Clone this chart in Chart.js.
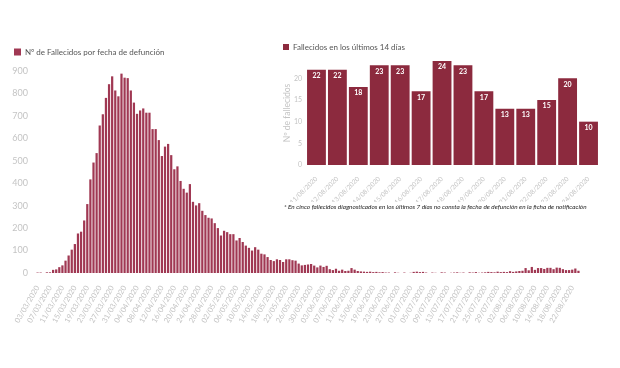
<!DOCTYPE html>
<html><head><meta charset="utf-8">
<script src="https://cdn.jsdelivr.net/npm/chart.js@4"></script>
<style>
html,body{margin:0;padding:0;background:#fff;}
#wrap{position:relative;width:620px;height:368px;overflow:hidden;font-family:Lato,sans-serif;}
#main{position:absolute;left:0;top:0;}
#inset{position:absolute;left:272px;top:34px;}
#note{position:absolute;left:284px;top:203px;font-size:6.4px;font-style:italic;color:#222;white-space:nowrap;font-family:Lato,sans-serif;}
</style></head>
<body><div id="wrap">
<canvas id="main" width="620" height="368"></canvas>
<canvas id="inset" width="334" height="168"></canvas>
<div id="note">* En cinco fallecidos diagnosticados en los últimos 7 días no consta la fecha de defunción en la ficha de notificación</div>
</div>
<script>
// ---- Main chart data ----
const startDate = new Date(2020, 2, 3);
const deathsByDate = [
  2,2,0,3,3,14,16,26,34,55,
  78,104,129,176,184,234,307,417,492,534,
  657,707,780,841,876,813,787,888,870,868,
  813,759,709,724,733,714,714,641,641,592,
  521,563,575,525,462,475,410,375,358,396,
  317,301,311,
  277,258,246,243,222,200,167,188,182,173,
  173,145,156,138,122,112,100,115,104,86,
  83,71,58,53,61,58,49,61,61,57,
  55,42,34,36,38,40,33,25,33,27,
  32,17,13,19,10,15,9,10,22,15,9,7,
  6,5,6,4,5,3,4,2,
  2,0,3,1,0,2,0,1,
  5,6,4,5,2,
  0,2,1,0,3,2,0,1,2,3,
  1,2,0,3,2,4,1,2,3,5,4,3,6,4,
  5,4,8,5,7,9,
  10,22,12,27,14,
  22,22,18,23,23,17,24,23,17,13,13,15,20,10
];
const dateLabels = [];
for (let i = 0; i < deathsByDate.length; i++) {
  const d = new Date(startDate.getFullYear(), startDate.getMonth(), startDate.getDate() + i);
  dateLabels.push(String(d.getDate()).padStart(2,'0') + '/' + String(d.getMonth()+1).padStart(2,'0') + '/' + d.getFullYear());
}
const mainYTicks = [0,100,200,300,400,500,600,700,800,900];

// ---- Inset chart data ----
const last14Dates = ['11/08/2020','12/08/2020','13/08/2020','14/08/2020','15/08/2020','16/08/2020','17/08/2020','18/08/2020','19/08/2020','20/08/2020','21/08/2020','22/08/2020','23/08/2020','24/08/2020'];
const last14Deaths = [22,22,18,23,23,17,24,23,17,13,13,15,20,10];
const insetYTicks = [0,5,10,15,20];

const FONT = 'Lato';
const GRAY = '#c4c4c4';

new Chart(document.getElementById('main'), {
  type: 'bar',
  data: {
    labels: dateLabels,
    datasets: [{
      label: 'Nº de Fallecidos por fecha de defunción',
      data: deathsByDate,
      backgroundColor: '#a03853',
      barPercentage: 0.72,
      categoryPercentage: 1
    }]
  },
  options: {
    responsive: false,
    animation: false,
    layout: { padding: { left: 8, right: 40, top: 42, bottom: 0 } },
    plugins: {
      legend: {
        position: 'top', align: 'start',
        labels: { boxWidth: 7, boxHeight: 7, padding: 6, color: '#555', font: { family: FONT, size: 8 } }
      },
      tooltip: { enabled: false }
    },
    scales: {
      x: {
        grid: { display: false }, border: { display: false },
        afterFit: s => { s.height = 95; },
        ticks: {
          autoSkip: false, minRotation: 60, maxRotation: 60, padding: 3,
          color: GRAY, font: { family: FONT, size: 7.5 },
          callback: function(v, i) { return i % 4 === 0 ? this.getLabelForValue(v) : ''; }
        }
      },
      y: {
        min: 0, max: 922,
        grid: { display: false }, border: { display: false },
        afterFit: s => { s.width = 28; },
        afterBuildTicks: s => { s.ticks = mainYTicks.map(v => ({ value: v })); },
        ticks: { padding: 0, color: GRAY, font: { family: FONT, size: 9 } }
      }
    }
  }
});

const valueLabels = {
  id: 'valueLabels',
  afterDatasetsDraw(chart) {
    const ctx = chart.ctx;
    const meta = chart.getDatasetMeta(0);
    ctx.save();
    ctx.fillStyle = '#ffffff';
    ctx.font = 'bold 7px ' + FONT;
    ctx.textAlign = 'center';
    ctx.textBaseline = 'middle';
    meta.data.forEach((bar, i) => {
      ctx.fillText(String(chart.data.datasets[0].data[i]), bar.x, bar.y + 6);
    });
    ctx.restore();
  }
};

new Chart(document.getElementById('inset'), {
  type: 'bar',
  data: {
    labels: last14Dates,
    datasets: [{
      label: 'Fallecidos en los últimos 14 días',
      data: last14Deaths,
      backgroundColor: '#8c2a3e',
      barPercentage: 0.9,
      categoryPercentage: 1
    }]
  },
  options: {
    responsive: false,
    animation: false,
    layout: { padding: { left: 5, right: 7, top: 3, bottom: 0 } },
    plugins: {
      legend: {
        position: 'top', align: 'start',
        labels: { boxWidth: 6, boxHeight: 6, padding: 6, color: '#555', font: { family: FONT, size: 8 } }
      },
      tooltip: { enabled: false }
    },
    scales: {
      x: {
        grid: { display: false }, border: { display: false },
        afterFit: s => { s.height = 37; },
        ticks: { autoSkip: false, minRotation: 45, maxRotation: 45, padding: 2, color: GRAY, font: { family: FONT, size: 6.5 } }
      },
      y: {
        min: 0, max: 24,
        grid: { display: false }, border: { display: false },
        afterFit: s => { s.width = 29; },
        afterBuildTicks: s => { s.ticks = insetYTicks.map(v => ({ value: v })); },
        title: { display: true, text: 'Nº de fallecidos', color: GRAY, font: { family: FONT, size: 8.5 }, padding: { top: 5, bottom: 0 } },
        ticks: { padding: -4, color: GRAY, font: { family: FONT, size: 7 } }
      }
    }
  },
  plugins: [valueLabels]
});
</script>
</body></html>
